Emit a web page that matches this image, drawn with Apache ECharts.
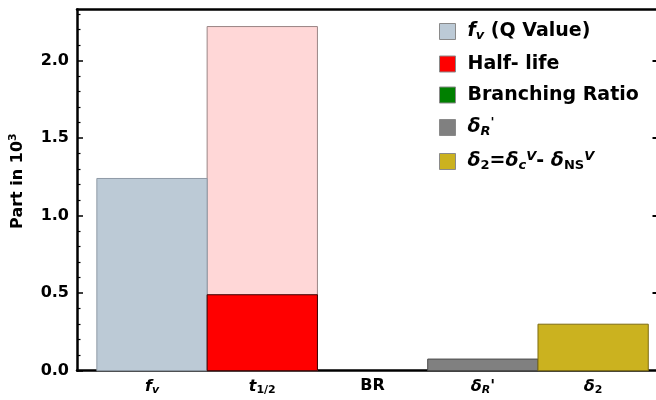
<!DOCTYPE html>
<html>
<head>
<meta charset="utf-8">
<style>
  html, body { margin: 0; padding: 0; background: #fff; }
  #chart { width: 656px; height: 400px; }
</style>
<script src="https://cdn.jsdelivr.net/npm/echarts@6/dist/echarts.min.js"></script>
</head>
<body>
<div id="chart"></div>
<script>
// Category labels along the bottom (rich-text keys for sub/superscripts)
const categories = ['{it|f}{isub|v}', '{it|t}{sub|1/2}', 'BR', "{it|δ}{isub|R}'", '{it|δ}{sub|2}'];

// Contribution of each input, in parts per thousand (null = not present in that column)
const qValueParts    = [1.24, null, null, null, null];
const halfLifeParts  = [null, 0.49, null, null, null];
const halfLifeRange  = [null, 2.22, null, null, null];
const branchingParts = [null, null, 0, null, null];
const deltaRParts    = [null, null, null, 0.075, null];
const delta2Parts    = [null, null, null, null, 0.30];

// Y tick values
const yTicks = [0, 0.5, 1.0, 1.5, 2.0];

const FONT = 'DejaVu Sans';

const legendNames = ['f_v (Q Value)', 'Half- life', 'Branching Ratio', "δ_R'", 'δ_2=δ_c^V- δ_NS^V'];
const legendText = {
  'f_v (Q Value)': '{it|f}{isub|v} (Q Value)',
  'Half- life': 'Half- life',
  'Branching Ratio': 'Branching Ratio',
  "δ_R'": "{it|δ}{isub|R}{sup|'}",
  'δ_2=δ_c^V- δ_NS^V': '{it|δ}{sub|2}={it|δ}{isub|c}{isup|V}- {it|δ}{sub|NS}{isup|V}'
};

function toBars(values) {
  const out = [];
  values.forEach((v, i) => { if (v !== null) out.push([i + 1, 0, v]); });
  return out;
}

function renderBar(params, api) {
  const x = api.value(0);
  const lo = api.coord([x - 0.5, api.value(1)]);
  const hi = api.coord([x + 0.5, api.value(2)]);
  const h = lo[1] - hi[1];
  if (h <= 0) return null;
  return {
    type: 'rect',
    shape: { x: lo[0], y: hi[1], width: hi[0] - lo[0], height: h },
    style: api.style()
  };
}

function barSeries(name, values, fill, edge, z) {
  return {
    type: 'custom',
    name: name,
    renderItem: renderBar,
    data: toBars(values),
    encode: { x: 0, y: [1, 2] },
    itemStyle: { color: fill, borderColor: edge, borderWidth: 1 },
    z: z || 2,
    silent: true
  };
}

function richSet(size, sub) {
  return {
    it:   { fontFamily: FONT, fontWeight: 'bold', fontStyle: 'italic', fontSize: size, color: '#000' },
    sub:  { fontFamily: FONT, fontWeight: 'bold', fontSize: sub, color: '#000', padding: [Math.round(size * 0.45), 0, 0, 0] },
    isub: { fontFamily: FONT, fontWeight: 'bold', fontStyle: 'italic', fontSize: sub, color: '#000', padding: [Math.round(size * 0.45), 0, 0, 0] },
    sup:  { fontFamily: FONT, fontWeight: 'bold', fontSize: sub, color: '#000', padding: [0, 0, Math.round(size * 0.45), 0] },
    isup: { fontFamily: FONT, fontWeight: 'bold', fontStyle: 'italic', fontSize: sub, color: '#000', padding: [0, 0, Math.round(size * 0.45), 0] }
  };
}

const chart = echarts.init(document.getElementById('chart'), null, { renderer: 'canvas' });

const frameLine = { show: true, onZero: false, lineStyle: { color: '#000', width: 2.5 } };
const X_MIN = 0.32, X_MAX = 5.57;

chart.setOption({
  animation: false,
  backgroundColor: '#fff',
  grid: { left: 76, top: 9.5, right: 0, bottom: 29.3, containLabel: false },
  xAxis: [
    {
      type: 'value', position: 'bottom', min: X_MIN, max: X_MAX,
      axisLine: frameLine,
      axisTick: { show: false },
      splitLine: { show: false },
      axisLabel: {
        customValues: [1, 2, 3, 4, 5],
        margin: 7,
        formatter: v => categories[Math.round(v) - 1],
        fontFamily: FONT, fontWeight: 'bold', fontSize: 16, color: '#000',
        rich: richSet(16, 11)
      }
    },
    {
      type: 'value', position: 'top', min: X_MIN, max: X_MAX,
      axisLine: frameLine,
      axisTick: { show: false },
      axisLabel: { show: false },
      splitLine: { show: false }
    }
  ],
  yAxis: [
    {
      type: 'value', position: 'left', min: 0, max: 2.33, interval: 0.5,
      axisLine: frameLine,
      axisTick: { show: true, inside: true, length: 6, lineStyle: { color: '#000', width: 1.5 }, customValues: yTicks },
      minorTick: { show: true, splitNumber: 5, length: 3.5, lineStyle: { color: '#000', width: 1.2 } },
      splitLine: { show: false },
      axisLabel: {
        customValues: yTicks,
        margin: 8,
        formatter: v => v.toFixed(1),
        fontFamily: FONT, fontWeight: 'bold', fontSize: 16, color: '#000'
      },
      name: 'Part in 10{sup|3}',
      nameLocation: 'middle',
      nameRotate: 90,
      nameGap: 50,
      nameTextStyle: {
        fontFamily: FONT, fontWeight: 'bold', fontSize: 16, color: '#000',
        padding: [0, 0, 0, 18],
        rich: { sup: { fontFamily: FONT, fontWeight: 'bold', fontSize: 11, color: '#000', padding: [0, 0, 8, 0] } }
      }
    },
    {
      type: 'value', position: 'right', min: 0, max: 2.33, interval: 0.5,
      axisLine: { show: false, onZero: false },
      axisTick: { show: true, inside: true, length: 3.5, lineStyle: { color: '#000', width: 2 }, customValues: [0.5, 1.0, 1.5, 2.0] },
      axisLabel: { show: false },
      splitLine: { show: false }
    }
  ],
  legend: {
    orient: 'vertical',
    left: 439, top: 22,
    padding: 0,
    itemWidth: 16, itemHeight: 16,
    itemGap: 12,
    icon: 'rect',
    data: legendNames,
    itemStyle: { borderColor: '#8a8a8a', borderWidth: 1 },
    formatter: name => legendText[name],
    textStyle: {
      fontFamily: FONT, fontWeight: 'bold', fontSize: 19, color: '#000',
      padding: [0, 0, 0, 7],
      rich: richSet(19, 13)
    },
    selectedMode: false
  },
  series: [
    barSeries('Half-life range', halfLifeRange, '#ffd7d7', '#9a8585', 1),
    barSeries('f_v (Q Value)', qValueParts, '#bccad6', '#8f9aa6', 2),
    barSeries('Half- life', halfLifeParts, '#ff0000', '#3a0000', 2),
    barSeries('Branching Ratio', branchingParts, '#008000', '#004000', 2),
    barSeries("δ_R'", deltaRParts, '#808080', '#4a4a4a', 2),
    barSeries('δ_2=δ_c^V- δ_NS^V', delta2Parts, '#cbb21f', '#7d6c10', 2)
  ]
});
</script>
</body>
</html>
